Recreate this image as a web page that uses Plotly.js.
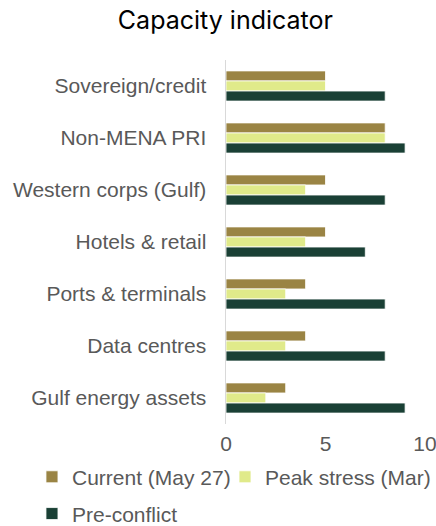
<!DOCTYPE html>
<html>
<head>
<meta charset="utf-8">
<script src="https://cdn.plot.ly/plotly-3.0.1.min.js"></script>
<style>html,body{margin:0;padding:0;background:#fff;}#chart{width:436px;height:526px;}</style>
</head>
<body>
<div id="chart"></div>
<script>
const categories = ["Sovereign/credit", "Non-MENA PRI", "Western corps (Gulf)", "Hotels & retail", "Ports & terminals", "Data centres", "Gulf energy assets"];
const currentVals = [5, 8, 5, 5, 4, 4, 3];
const peakVals = [5, 8, 4, 4, 3, 3, 2];
const preVals = [8, 9, 8, 7, 8, 8, 9];
const seriesNames = ["Current (May 27)", "Peak stress (Mar)", "Pre-conflict"];
const xTicks = [0, 5, 10];

const colors = ["#9a8444", "#e0ea8a", "#1a4035"];
const legendIds = ["legend", "legend3", "legend2"];
const vals = [currentVals, peakVals, preVals];
const traces = vals.map((v, i) => ({
  type: "bar",
  orientation: "h",
  name: seriesNames[i],
  x: v,
  y: categories,
  legend: legendIds[i],
  marker: {color: colors[i], line: {color: "#ffffff", width: 0.8}},
  hoverinfo: "skip"
}));

const labelFont = {family: "Liberation Sans, Arial, sans-serif", size: 21, color: "#595959"};
const legBase = {orientation: "h", xanchor: "left", yanchor: "middle", font: labelFont, itemwidth: 30,
                 bgcolor: "rgba(0,0,0,0)"};
const layout = {
  width: 436, height: 526,
  margin: {l: 226, r: 11, t: 60, b: 102, pad: 0, autoexpand: false},
  paper_bgcolor: "#ffffff", plot_bgcolor: "#ffffff",
  title: {text: "Capacity indicator", x: 0.517, xanchor: "center", y: 0.978, yanchor: "top",
          font: {family: "Inter, sans-serif", size: 25, color: "#000000"}},
  barmode: "group", bargap: 0.42, bargroupgap: 0,
  showlegend: true,
  legend: Object.assign({}, legBase, {x: -0.975, y: -0.146}),
  legend3: Object.assign({}, legBase, {x: -0.005, y: -0.146}),
  legend2: Object.assign({}, legBase, {x: -0.975, y: -0.247}),
  xaxis: {range: [0, 10], tickvals: xTicks, ticktext: xTicks.map(String), showgrid: false, zeroline: false,
          showline: false, ticks: "", tickfont: labelFont, automargin: false, ticklabeloverflow: "allow",
          ticklabelstandoff: 5},
  yaxis: {autorange: "reversed", showgrid: false, zeroline: false, showline: true, linecolor: "#d9d9d9", linewidth: 1.5,
          ticks: "", ticklabelstandoff: 14, tickfont: labelFont, automargin: false}
};
Plotly.newPlot("chart", traces, layout, {displayModeBar: false, staticPlot: true});
</script>
</body>
</html>
